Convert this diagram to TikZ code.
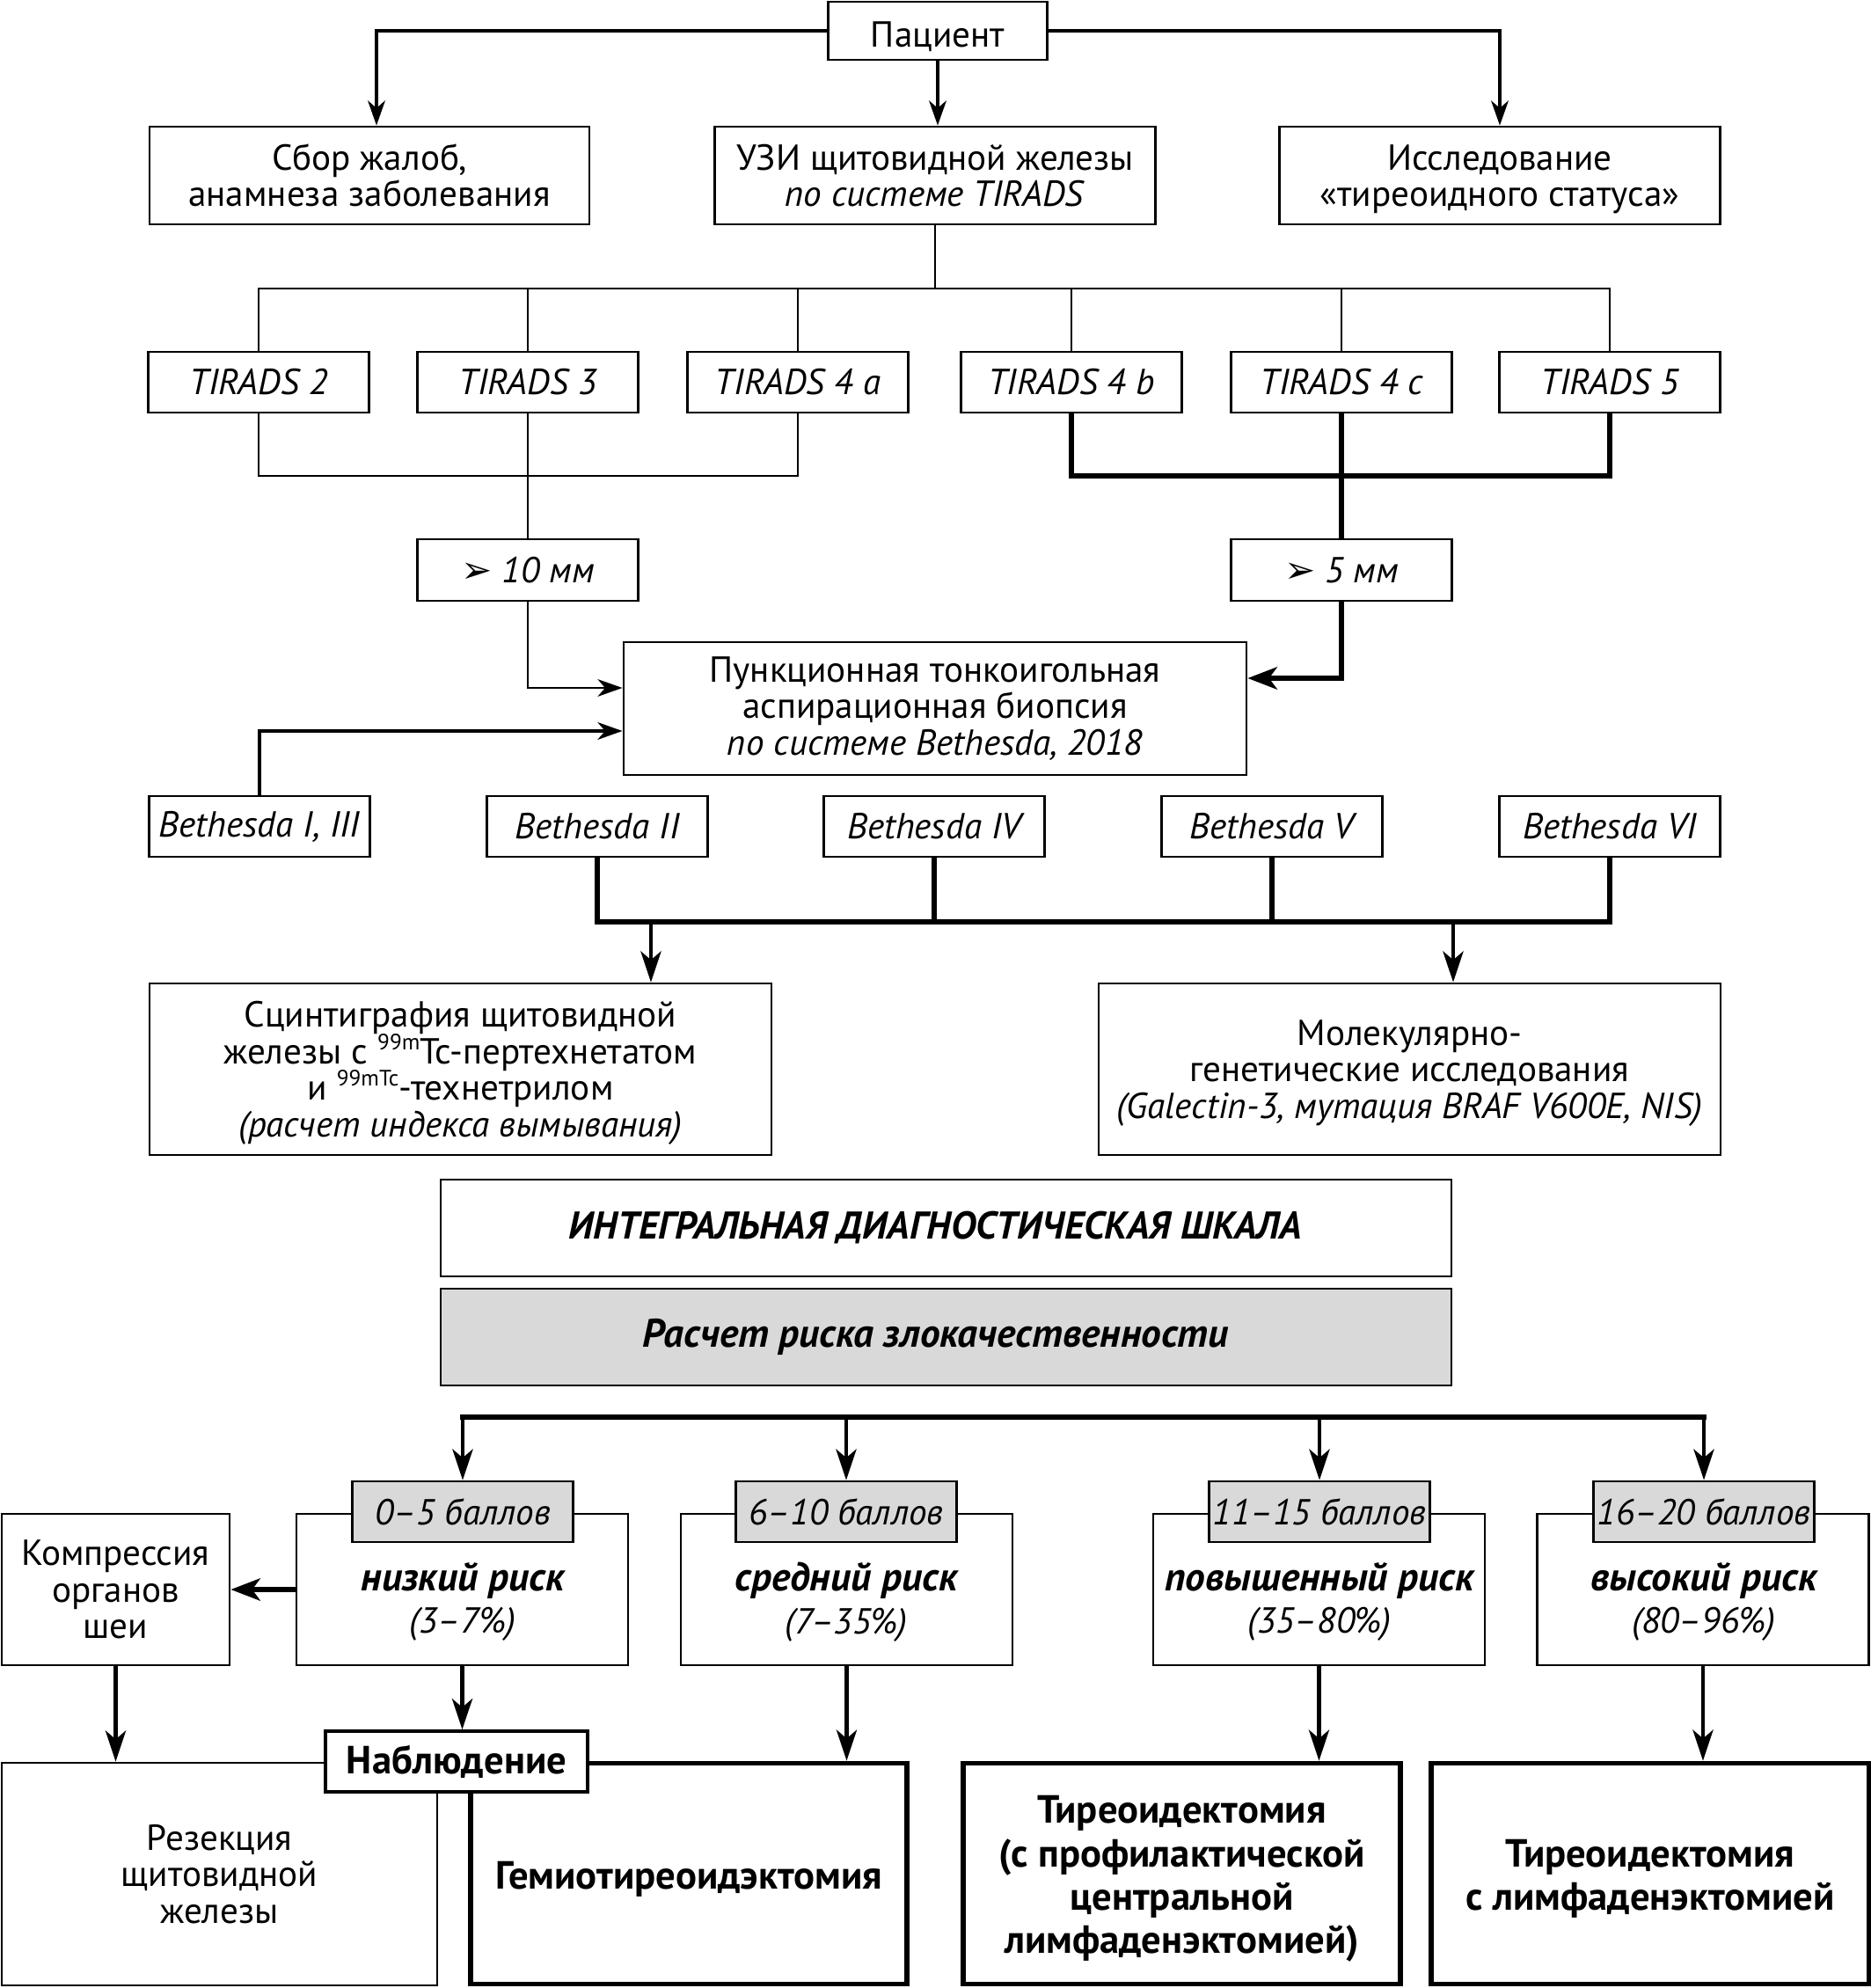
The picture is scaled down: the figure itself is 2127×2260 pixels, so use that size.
\documentclass[tikz,border=0pt]{standalone}
\usepackage{fontspec}
\setmainfont{PT Sans}
\newfontfamily\dejavu{DejaVu Sans}
\usetikzlibrary{arrows.meta}
\definecolor{boxgray}{gray}{0.85}
\newcommand{\fs}{\fontsize{11.7}{11.8}\selectfont}
\newcommand{\fb}{\fontsize{12.7}{14}\selectfont\bfseries}
\newcommand{\fbi}{\fontsize{12.9}{14}\selectfont\bfseries\itshape}
\newcommand{\arrsym}{{\dejavu\fontsize{12}{12}\selectfont ➢}}
\newcommand{\sups}[1]{\raisebox{4.6pt}[0pt][0pt]{\fontsize{7.2}{7.2}\selectfont #1}}
\newcommand{\nodp}[1]{\raisebox{0pt}[\height][0pt]{#1}}
\begin{document}
\begin{tikzpicture}[x=0.01cm,y=-0.01cm,
  bx/.style 2 args={draw, line width=0.8pt, fill=white, inner sep=0pt, align=center, font=\fs,
     minimum width=#1*0.01cm, minimum height=#2*0.01cm},
  ibx/.style 2 args={bx={#1}{#2}, font=\fs\itshape},
  gbx/.style 2 args={bx={#1}{#2}, fill=boxgray},
  tbx/.style 2 args={bx={#1}{#2}, line width=1.6pt},
  txt/.style={inner sep=0pt, align=center, font=\fs},
  c0/.style={line width=0.7pt},
  c1/.style={line width=1pt},
  ca/.style={line width=1.2pt},
  cd/.style={line width=1.6pt, line cap=rect},
  cb/.style={line width=1.6pt},
  arr/.style={-{Stealth[length=8pt,width=5.6pt,inset=2.4pt]}},
  arrB/.style={-{Stealth[length=9.5pt,width=7.2pt,inset=2.6pt]}},
  arrD/.style={-{Stealth[length=10pt,width=6.6pt,inset=2.8pt]}},
]
\useasboundingbox (0,0) rectangle (2127,2260);

% row 1-2
\node[bx={249}{66}] (pac) at (1066,35) {\raisebox{-1.8pt}[\height][\depth]{Пациент}};
\node[bx={500}{111}] (sbor) at (420,199.5) {Сбор жалоб,\\анамнеза заболевания};
\node[bx={501}{111}] (uzi) at (1063,199.5) {УЗИ щитовидной железы\\\textit{по системе TIRADS}};
\node[bx={501}{111}] (issl) at (1705,199.5) {Исследование\\\nodp{«тиреоидного статуса»}};

\draw[c1,arr] (pac.west) -| ([xshift=0.08cm]sbor.north);
\draw[c1,arr] (pac.east) -| (issl.north);
\draw[c1,arr] (pac.south) -- (pac.south |- uzi.north);

% TIRADS
\node[ibx={251}{69}] (t2) at (294,434.5) {TIRADS 2};
\node[ibx={251}{69}] (t3) at (600,434.5) {TIRADS 3};
\node[ibx={251}{69}] (t4a) at (907,434.5) {TIRADS 4 a};
\node[ibx={251}{69}] (t4b) at (1218,434.5) {TIRADS 4 b};
\node[ibx={251}{69}] (t4c) at (1525,434.5) {TIRADS 4 c};
\node[ibx={251}{69}] (t5) at (1830,434.5) {TIRADS 5};
\node[ibx={251}{70}] (mm10) at (600,648) {\arrsym\ 10 мм};
\node[ibx={251}{70}] (mm5) at (1525,648) {\arrsym\ 5 мм};

\coordinate (tb) at (1063,328);
\draw[c0] (uzi.south) -- (tb);
\draw[c0] (t2.north) -- (t2.north |- tb) -- (t5.north |- tb) -- (t5.north);
\foreach \n in {t3,t4a,t4b,t4c} \draw[c0] (\n.north) -- (\n.north |- tb);

\coordinate (lb) at (600,541);
\draw[c0] (t2.south) -- (t2.south |- lb) -- (t4a.south |- lb) -- (t4a.south);
\draw[c0] (t3.south) -- (mm10.north);
\draw[cb] (t4b.south) -- (t4b.south |- lb) -- (t5.south |- lb) -- (t5.south);
\draw[cb] (t4c.south) -- (mm5.north);

% puncture
\node[bx={708}{151}] (punc) at (1063,805.5) {Пункционная тонкоигольная\\аспирационная биопсия\\\textit{по системе Bethesda, 2018}};
\path (punc.west) ++(0,-23.5) coordinate (pin1);
\path (punc.west) ++(0,25.5) coordinate (pin2);
\path (punc.east) ++(0,-34.5) coordinate (pin3);
\draw[c0,arr] (mm10.south) |- (pin1);
\draw[cb,arrB] (mm5.south) |- (pin3);

% Bethesda
\node[ibx={251}{69}] (b1) at (295,939.5) {Bethesda I, III};
\node[ibx={251}{69}] (b2) at (679,939.5) {Bethesda II};
\node[ibx={251}{69}] (b4) at (1062,939.5) {Bethesda IV};
\node[ibx={251}{69}] (b5) at (1446,939.5) {Bethesda V};
\node[ibx={251}{69}] (b6) at (1830,939.5) {Bethesda VI};
\draw[c1,arr] (b1.north) |- (pin2);

\coordinate (bb) at (1000,1048);
\draw[cb] (b2.south) -- (b2.south |- bb) -- (b6.south |- bb) -- (b6.south);
\draw[cb] (b4.south) -- (b4.south |- bb);
\draw[cb] (b5.south) -- (b5.south |- bb);

\node[bx={707}{195}] (scint) at (523.5,1215.5) {Сцинтиграфия щитовидной\\железы с \sups{99m}Tc-пертехнетатом\\и \sups{99mTc}-технетрилом\\\nodp{\textit{(расчет индекса вымывания)}}};
\node[bx={707}{195}] (mol) at (1602.5,1215.5) {Молекулярно-\\генетические исследования\\\nodp{\textit{(Galectin-3, мутация BRAF V600E, NIS)}}};
\coordinate (ba1) at (740,1048);
\coordinate (ba2) at (1652,1048);
\draw[ca,arrD] (ba1) -- (ba1 |- scint.north);
\draw[ca,arrD] (ba2) -- (ba2 |- mol.north);

% scale
\node[bx={1149}{110}, font=\fontsize{12.5}{13}\selectfont\bfseries\itshape] (integ) at (1075.5,1396) {ИНТЕГРАЛЬНАЯ ДИАГНОСТИЧЕСКАЯ ШКАЛА\hspace*{0.24cm}};
\node[gbx={1149}{110}, font=\fbi] (calc) at (1075.5,1520) {Расчет риска злокачественности\hspace*{0.24cm}};

% risk boxes
\node[bx={377}{172}] (low) at (525.5,1807) {};
\node[bx={377}{172}] (mid) at (962.5,1807) {};
\node[bx={377}{172}] (elev) at (1499.5,1807) {};
\node[bx={377}{172}] (high) at (1936,1807) {};
\node[gbx={251}{69}, font=\fs\itshape] (s1) at (526,1718.5) {0–5 баллов};
\node[gbx={251}{69}, font=\fs\itshape] (s2) at (962,1718.5) {6–10 баллов};
\node[gbx={251}{69}, font=\fs\itshape] (s3) at (1500,1718.5) {11–15 баллов};
\node[gbx={251}{69}, font=\fs\itshape] (s4) at (1937,1718.5) {16–20 баллов};
\node[txt] (lowt) at (526,1821) {{\fbi низкий риск}\\[2pt]\textit{(3–7\%)}};
\node[txt] (midt) at (962,1821) {{\fbi средний риск}\\[2pt]\textit{(7–35\%)}};
\node[txt] (elevt) at (1500,1821) {{\fbi повышенный риск}\\[2pt]\textit{(35–80\%)}};
\node[txt] (hight) at (1937,1821) {{\fbi высокий риск}\\[2pt]\textit{(80–96\%)}};

\coordinate (db) at (1000,1611);
\draw[cd] (s1.north |- db) -- (s4.north |- db);
\foreach \n in {s1,s2,s3,s4} \draw[ca,arrD] (\n.north |- db) -- (\n.north);

\node[bx={259}{172}] (comp) at (131.5,1807) {Компрессия\\органов\\шеи};
\draw[cb,arrB] (low.west) -- (comp.east);

% bottom
\node[bx={495}{253}] (res) at (249.5,2130.5) {Резекция\\щитовидной\\железы};
\node[tbx={496}{251}] (hemi) at (783,2130) {};
\node[tbx={497}{251}] (thy1) at (1343.5,2130) {};
\node[tbx={498}{251}] (thy2) at (1876,2130) {};
\node[txt, font=\fb] (hemit) at (783,2136) {Гемиотиреоидэктомия};
\node[txt, font=\fb] (thy1t) at (1343.5,2136) {Тиреоидектомия\\(с профилактической\\центральной\\лимфаденэктомией)};
\node[txt, font=\fb] (thy2t) at (1876,2136) {Тиреоидектомия\\с лимфаденэктомией};
\node[bx={298}{69}, line width=1pt, font=\fb] (nab) at (519,2002.5) {Наблюдение};

\draw[ca,arrD] (comp.south) -- (comp.south |- res.north);
\draw[ca,arrD] (low.south) -- (low.south |- nab.north);
\draw[ca,arrD] (mid.south) -- (mid.south |- hemi.north);
\draw[ca,arrD] (elev.south) -- (elev.south |- thy1.north);
\draw[ca,arrD] (high.south) -- (high.south |- thy2.north);
\end{tikzpicture}
\end{document}
